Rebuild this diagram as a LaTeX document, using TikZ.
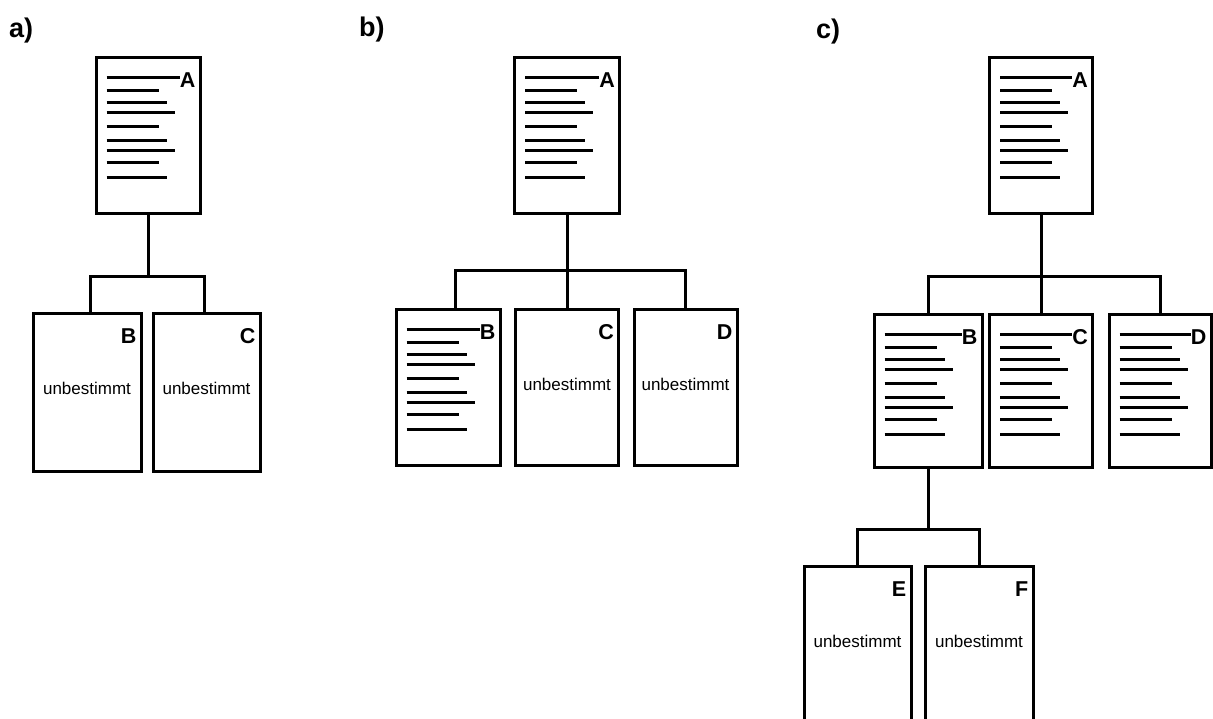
\documentclass[tikz,border=0pt]{standalone}
\usepackage{fontspec}
\setmainfont{Liberation Sans}
\usetikzlibrary{calc}
\newcommand{\txtlines}[1]{%
  \begin{scope}[shift={(#1.north west)}]
    \draw[tline] (12,22) -- ($(12,22)!(#1-l.west)!(100,22)$);
    \foreach \yy/\xe in {35/64, 47/72, 57/80, 71/64, 85/72, 95/80, 107/64, 122/72}
      \draw[tline] (12,\yy) -- (\xe,\yy);
  \end{scope}}
\newcommand{\boxletter}[2]{%
  \node[blabel, anchor=east] (#1-l) at ($(#1.north east)+(-6,25)$) {#2};}
\newcommand{\unbest}[1]{%
  \node[ubtext] (#1-t) at ($(#1.north)+(0,77)$) {unbestimmt};}
\begin{document}
\begin{tikzpicture}[x=1pt,y=-1pt,
  page/.style={draw, line width=3pt, inner sep=0pt, fill=none},
  tline/.style={line width=3.2pt, line cap=butt},
  con/.style={line width=3pt, line cap=rect},
  blabel/.style={font=\fontsize{21.5}{23}\selectfont\bfseries, inner sep=0pt},
  ubtext/.style={font=\fontsize{17}{19}\selectfont, inner sep=0pt},
  plabel/.style={font=\fontsize{27}{29}\selectfont\bfseries, inner sep=0pt}]
\useasboundingbox (0,0) rectangle (1213,718);
\clip (0,0) rectangle (1213,718);

% panel labels
\node[plabel, anchor=base west] (la) at (9,37) {a)};
\node[plabel, anchor=base west] (lb) at (359,36) {b)};
\node[plabel, anchor=base west] (lc) at (816,38) {c)};

% ---------- panel a ----------
\node[page, minimum width=104pt, minimum height=156pt] (aA) at (148,135) {};
\node[page, minimum width=108pt, minimum height=158pt] (aB) at (87,392) {};
\node[page, minimum width=107pt, minimum height=158pt] (aC) at (206.5,392) {};
\boxletter{aA}{A}
\boxletter{aB}{B}
\boxletter{aC}{C}
\txtlines{aA}
\unbest{aB}
\unbest{aC}
\coordinate (aj) at (148,276);
\draw[con] (aA.south) -- (aj);
\draw[con] ($(aB.north)+(3,0)$) |- (aj) -| ($(aC.north)+(-2.5,0)$);

% ---------- panel b ----------
\node[page, minimum width=105pt, minimum height=156pt] (bA) at (567,135) {};
\node[page, minimum width=104pt, minimum height=156pt] (bB) at (448,387) {};
\node[page, minimum width=103pt, minimum height=156pt] (bC) at (567,387) {};
\node[page, minimum width=103pt, minimum height=156pt] (bD) at (685.5,387) {};
\boxletter{bA}{A}
\boxletter{bB}{B}
\boxletter{bC}{C}
\boxletter{bD}{D}
\txtlines{bA}
\txtlines{bB}
\unbest{bC}
\unbest{bD}
\coordinate (bj) at (567,270);
\draw[con] (bA.south) -- (bC.north);
\draw[con] ($(bB.north)+(7,0)$) |- (bj) -| (bD.north);

% ---------- panel c ----------
\node[page, minimum width=103pt, minimum height=156pt] (cA) at (1041,135) {};
\node[page, minimum width=108pt, minimum height=153pt] (cB) at (928,390.5) {};
\node[page, minimum width=103pt, minimum height=153pt] (cC) at (1041,390.5) {};
\node[page, minimum width=102pt, minimum height=153pt] (cD) at (1160,390.5) {};
\node[page, minimum width=107pt, minimum height=200pt] (cE) at (857.5,666) {};
\node[page, minimum width=108pt, minimum height=200pt] (cF) at (979,666) {};
\boxletter{cA}{A}
\boxletter{cB}{B}
\boxletter{cC}{C}
\boxletter{cD}{D}
\boxletter{cE}{E}
\boxletter{cF}{F}
\txtlines{cA}
\txtlines{cB}
\txtlines{cC}
\txtlines{cD}
\unbest{cE}
\unbest{cF}
\coordinate (cj) at (1041,276);
\draw[con] (cA.south) -- (cC.north);
\draw[con] (cB.north) |- (cj) -| (cD.north);
\coordinate (cj2) at (928,529);
\draw[con] (cB.south) -- (cj2);
\draw[con] (cE.north) |- (cj2) -| (cF.north);
\end{tikzpicture}
\end{document}
